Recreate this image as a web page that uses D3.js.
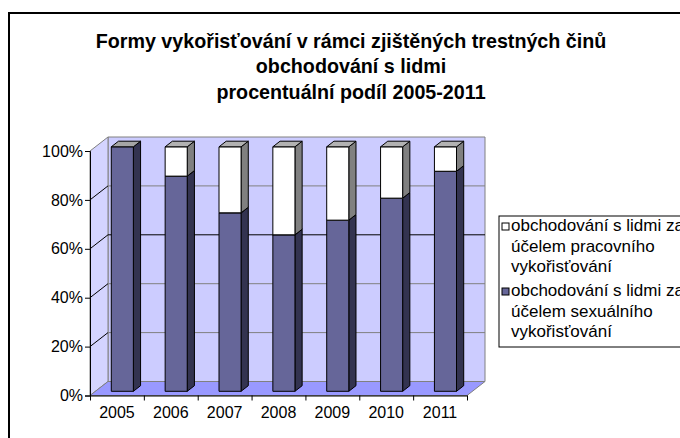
<!DOCTYPE html>
<html>
<head>
<meta charset="utf-8">
<script src="https://cdn.jsdelivr.net/npm/d3@7"></script>
<style>
body { margin: 0; background: #fff; }
svg text { font-family: "Liberation Sans", Arial, sans-serif; }
</style>
</head>
<body>
<script>
// data (share of sexual exploitation, rest = labour)
var years = ["2005", "2006", "2007", "2008", "2009", "2010", "2011"];
var sexual = [1.00, 0.88, 0.73, 0.64, 0.70, 0.79, 0.90];
var labour = [0.00, 0.12, 0.27, 0.36, 0.30, 0.21, 0.10];
var yTicks = [0, 0.2, 0.4, 0.6, 0.8, 1];
var titleLines = ["Formy vykořisťování v rámci zjištěných trestných činů",
                  "obchodování s lidmi",
                  "procentuální podíl 2005-2011"];
var legendItems = [
  {lines: ["obchodování s lidmi za", "účelem pracovního", "vykořisťování"], color: "#ffffff"},
  {lines: ["obchodování s lidmi za", "účelem sexuálního", "vykořisťování"], color: "#666699"}
];

var width = 680, height = 438;
var depthX = 18, depthY = 14;

var svg = d3.select("body").append("svg")
    .attr("width", width)
    .attr("height", height);

// outer chart border
svg.append("rect").attr("x", 9).attr("y", 13).attr("width", 700).attr("height", 460)
    .attr("fill", "#fff").attr("stroke", "#000").attr("stroke-width", 2);

// title
svg.append("g").selectAll("text").data(titleLines).enter().append("text")
    .attr("x", 351).attr("y", function(d, i) { return 47.5 + i * 25.8; })
    .attr("text-anchor", "middle")
    .attr("font-size", 19.7).attr("font-weight", "bold")
    .text(function(d) { return d; });

var x = d3.scaleBand().domain(years).range([90, 467]).padding(0);
var y = d3.scaleLinear().domain([0, 1]).range([395.5, 151]);
var xEdge = d3.scaleLinear().domain([0, years.length]).range([90, 467]);

// project a point with depth z (0 = front, 1 = back)
function P(px, py, z) { return [px + depthX * z, py - depthY * z]; }
function poly(pts) { return pts.map(function(p) { return p.join(","); }).join(" "); }

var x0 = 90, x1 = 467;
// back wall
svg.append("polygon")
    .attr("points", poly([P(x0, y(0), 1), P(x1, y(0), 1), P(x1, y(1), 1), P(x0, y(1), 1)]))
    .attr("fill", "#ccccff").attr("stroke", "#808080");
// left wall
svg.append("polygon")
    .attr("points", poly([P(x0, y(0), 0), P(x0, y(0), 1), P(x0, y(1), 1), P(x0, y(1), 0)]))
    .attr("fill", "#d4d4ff").attr("stroke", "#808080");
// floor
svg.append("polygon")
    .attr("points", poly([P(x0, y(0), 0), P(x1, y(0), 0), P(x1, y(0), 1), P(x0, y(0), 1)]))
    .attr("fill", "#9999ff").attr("stroke", "#808080");

// gridlines on back wall and left wall
var grid = svg.append("g");
yTicks.filter(function(t) { return t > 0 && t < 1; }).forEach(function(t) {
  var a = P(x0, y(t), 1), b = P(x1, y(t), 1), c = P(x0, y(t), 0);
  grid.append("line").attr("x1", a[0]).attr("y1", a[1]).attr("x2", b[0]).attr("y2", b[1])
      .attr("stroke", t === 0.6 ? "#000" : "#808080").attr("stroke-width", 1);
  grid.append("line").attr("x1", c[0]).attr("y1", c[1]).attr("x2", a[0]).attr("y2", a[1])
      .attr("stroke", "#000").attr("stroke-width", 1);
});

// bars
var zf = 0.3, zb = 0.7;
var barW = x.bandwidth() * 0.41;
var bars = svg.append("g");
function drawBox(cx, v0, v1, front, side, top) {
  var l = cx - barW / 2, r = cx + barW / 2;
  var yb = y(v0), yt = y(v1);
  var g = bars.append("g").attr("stroke", "#000").attr("stroke-width", 1).attr("stroke-linejoin", "round");
  g.append("polygon").attr("fill", side)
      .attr("points", poly([P(r, yb, zf), P(r, yb, zb), P(r, yt, zb), P(r, yt, zf)]));
  g.append("polygon").attr("fill", front)
      .attr("points", poly([P(l, yb, zf), P(r, yb, zf), P(r, yt, zf), P(l, yt, zf)]));
  g.append("polygon").attr("fill", top)
      .attr("points", poly([P(l, yt, zf), P(r, yt, zf), P(r, yt, zb), P(l, yt, zb)]));
}
years.forEach(function(yr, i) {
  var cx = x(yr) + x.bandwidth() / 2;
  drawBox(cx, 0, sexual[i], "#666699", "#333350", "#a6a6a6");
  if (labour[i] > 0) drawBox(cx, sexual[i], sexual[i] + labour[i], "#ffffff", "#808080", "#b2b2b2");
});

// axes
var yAxis = svg.append("g").attr("transform", "translate(90,0)")
    .call(d3.axisLeft(y).tickValues(yTicks).tickFormat(d3.format(".0%")).tickSize(5).tickPadding(2));
yAxis.select(".domain").attr("stroke", "#000");
yAxis.selectAll("text").attr("font-size", 16).attr("font-family", "Liberation Sans, Arial, sans-serif").attr("fill", "#000");

var xAxis = svg.append("g").attr("transform", "translate(0," + y(0) + ")")
    .call(d3.axisBottom(xEdge).tickValues(d3.range(years.length + 1)).tickFormat("").tickSize(5).tickSizeOuter(0));
xAxis.select(".domain").attr("stroke", "#000");
svg.append("g").selectAll("text").data(years).enter().append("text")
    .attr("x", function(d) { return x(d) + x.bandwidth() / 2; })
    .attr("y", 418)
    .attr("text-anchor", "middle").attr("font-size", 16)
    .text(function(d) { return d; });

// legend
var legend = svg.append("g");
legend.append("rect").attr("x", 499).attr("y", 216).attr("width", 200).attr("height", 131)
    .attr("fill", "#fff").attr("stroke", "#000");
legendItems.forEach(function(item, i) {
  var base = 231 + i * 65;
  legend.append("rect").attr("x", 502).attr("y", base - 8).attr("width", 7).attr("height", 7)
      .attr("fill", item.color).attr("stroke", "#000");
  item.lines.forEach(function(line, j) {
    legend.append("text").attr("x", 511).attr("y", base + j * 20.5)
        .attr("font-size", 17).text(line);
  });
});
</script>
</body>
</html>
